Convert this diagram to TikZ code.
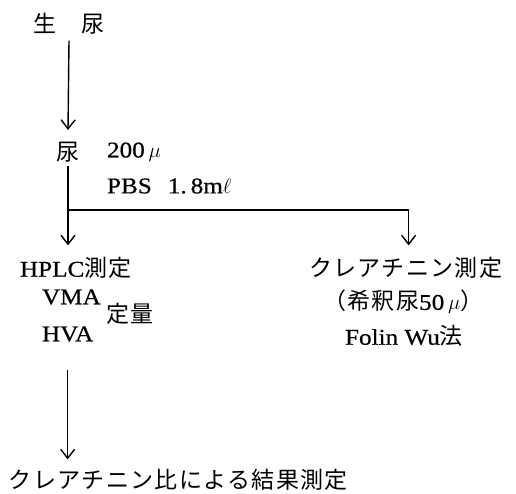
\documentclass[tikz,border=0pt]{standalone}
\usepackage{fontspec}
\setmainfont{Liberation Serif}[FakeStretch=1.12,FakeBold=0.6]
\newfontfamily\jpfont{Noto Sans CJK JP}[LetterSpace=6]
\newcommand\jp[1]{{\fontsize{23}{26}\selectfont\jpfont #1}}
\usetikzlibrary{arrows.meta}
\begin{document}
\begin{tikzpicture}[x=1pt,y=-1pt,
  every node/.style={font=\fontsize{22.5}{26}\selectfont, inner sep=0pt, outer sep=0pt, anchor=center},
  arr/.style={line width=1.4pt, -{Straight Barb[length=9pt,width=14pt,line width=1.4pt]}}]
\useasboundingbox (0,0) rectangle (516,493);
% nodes
\node (raw) at (69,24) {\jp{生　尿}};
\node (urine) at (68,152) {\jp{尿}};
\node[anchor=west] (amt) at (107,152) {200\,$\mu$};
\node[anchor=west] (pbs) at (107,186) {PBS\hspace{16pt}1.\hspace{4pt}8m$\ell$};
\node[anchor=west] (hplc) at (20,268) {HPLC\jp{測定}};
\node[anchor=west] (kure) at (309,268) {\jp{クレアチニン測定}};
\node[anchor=west] (vma) at (42,297) {VMA};
\node[anchor=west] (hva) at (42,334) {HVA};
\node[anchor=west] (teiryo) at (106,314) {\jp{定量}};
\node[anchor=west] (dil) at (323,302) {\jp{（希釈尿}50\,$\mu$\jp{）}};
\node[anchor=west] (folin) at (345,336) {Folin Wu\jp{法}};
\node[anchor=west] (final) at (9,480) {\jp{クレアチニン比による結果測定}};
\coordinate (br) at (69,210);
% connectors
\draw[arr] ([yshift=-6pt]raw.south) -- ([yshift=12pt]urine.north);
\draw[arr] ([yshift=-4pt]urine.south) -- ([yshift=12pt]hplc.north -| urine.south);
\draw[arr, -] (br) -| ([xshift=3pt,yshift=12pt]kure.north);
\draw[arr] ([xshift=3pt,yshift=40pt]kure.north) -- ([xshift=3pt,yshift=12pt]kure.north);
\draw[arr] ([yshift=-28pt]hva.south) -- ([yshift=10pt]final.north -| hva.south);
\end{tikzpicture}
\end{document}
